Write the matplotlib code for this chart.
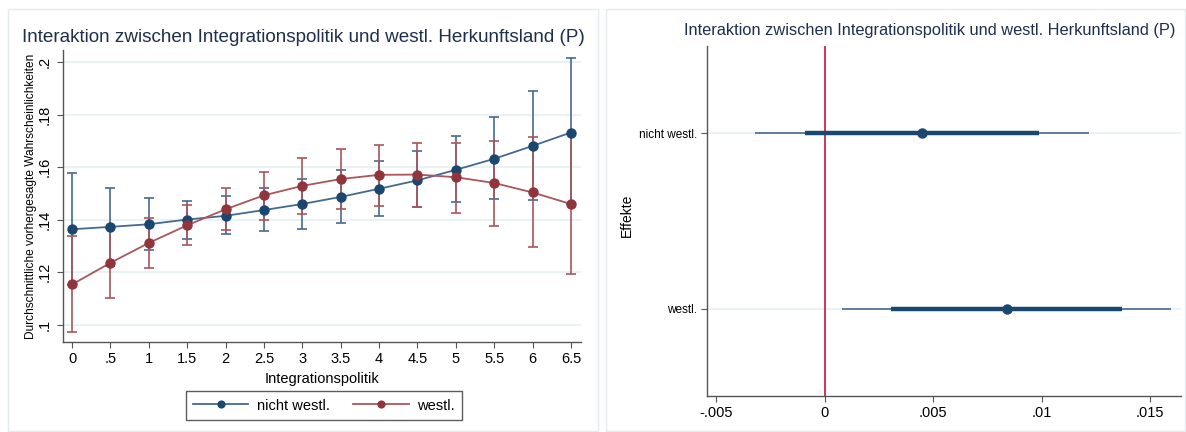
import numpy as np
import matplotlib
matplotlib.use('Agg')
from matplotlib import pyplot as plt
from matplotlib.patches import Rectangle

plt.rcParams['font.family'] = ['Liberation Sans', 'DejaVu Sans']

# left panel: average predicted probabilities
integ = [0, 0.5, 1, 1.5, 2, 2.5, 3, 3.5, 4, 4.5, 5, 5.5, 6, 6.5]
nw_mean = [0.1364, 0.1373, 0.1383, 0.1401, 0.1415, 0.1437, 0.1460, 0.1487, 0.1518, 0.1550, 0.1590, 0.1632, 0.1681, 0.1732]
nw_low = [0.1150, 0.1226, 0.1284, 0.1325, 0.1345, 0.1356, 0.1364, 0.1386, 0.1415, 0.1448, 0.1467, 0.1479, 0.1474, 0.1460]
nw_high = [0.1578, 0.1520, 0.1482, 0.1472, 0.1489, 0.1520, 0.1555, 0.1590, 0.1625, 0.1663, 0.1717, 0.1790, 0.1891, 0.2016]
w_mean = [0.1154, 0.1236, 0.1312, 0.1379, 0.1440, 0.1493, 0.1529, 0.1555, 0.1571, 0.1572, 0.1562, 0.1540, 0.1504, 0.1460]
w_low = [0.0972, 0.1104, 0.1217, 0.1305, 0.1363, 0.1398, 0.1423, 0.1442, 0.1452, 0.1448, 0.1425, 0.1377, 0.1295, 0.1192]
w_high = [0.1339, 0.1368, 0.1407, 0.1457, 0.1521, 0.1583, 0.1635, 0.1669, 0.1685, 0.1694, 0.1694, 0.1701, 0.1714, 0.1728]
x_ticks = [0, 0.5, 1, 1.5, 2, 2.5, 3, 3.5, 4, 4.5, 5, 5.5, 6, 6.5]
x_ticklabels = ['0', '.5', '1', '1.5', '2', '2.5', '3', '3.5', '4', '4.5', '5', '5.5', '6', '6.5']
y_ticks = [0.1, 0.12, 0.14, 0.16, 0.18, 0.2]
y_ticklabels = ['.1', '.12', '.14', '.16', '.18', '.2']

# right panel: effects with two confidence levels
groups = ['nicht westl.', 'westl.']
eff = [0.00449, 0.00839]
ci_thick_lo = [-0.00088, 0.00308]
ci_thick_hi = [0.0099, 0.01372]
ci_thin_lo = [-0.0032, 0.00079]
ci_thin_hi = [0.0122, 0.01597]
eff_ticks = [-0.005, 0, 0.005, 0.01, 0.015]
eff_ticklabels = ['-.005', '0', '.005', '.01', '.015']

title = 'Interaktion zwischen Integrationspolitik und westl. Herkunftsland (P)'
navy = '#1a476f'
navy_l = '#45698f'
maroon = '#90353b'
maroon_l = '#a9565c'
grid_c = '#e8f0f2'
spine_c = '#555555'

fig = plt.figure(figsize=(11.86, 4.32), dpi=100)
fig.patch.set_facecolor('white')

# panel frames
fig.patches.append(Rectangle((8/1186, 1-431/432), 590/1186, 422/432, transform=fig.transFigure,
                             fill=False, edgecolor='#e3ecee', linewidth=1))
fig.patches.append(Rectangle((606/1186, 1-431/432), 579/1186, 422/432, transform=fig.transFigure,
                             fill=False, edgecolor='#e3ecee', linewidth=1))

# ---- left panel
ax = fig.add_axes([62.5/1186, 1-342/432, 518/1186, 292/432])
for sp in ['top', 'right']:
    ax.spines[sp].set_visible(False)
for sp in ['left', 'bottom']:
    ax.spines[sp].set_color(spine_c)
    ax.spines[sp].set_linewidth(1)
ax.set_ylim(0.0935, 0.2046)
ax.set_xlim(-0.124, 6.625)
ax.set_yticks(y_ticks)
ax.set_yticklabels(y_ticklabels, rotation=90, va='center', fontsize=10.5)
ax.set_xticks(x_ticks)
ax.set_xticklabels(x_ticklabels, fontsize=10.5)
ax.tick_params(colors=spine_c, labelcolor='black', length=4)
ax.grid(axis='y', color=grid_c, linewidth=1.2)
ax.set_axisbelow(True)

nw_err = [np.array(nw_mean) - np.array(nw_low), np.array(nw_high) - np.array(nw_mean)]
w_err = [np.array(w_mean) - np.array(w_low), np.array(w_high) - np.array(w_mean)]
ax.errorbar(integ, nw_mean, yerr=nw_err, fmt='none', ecolor=navy_l, elinewidth=1.2, capsize=3.5, capthick=1.2)
ax.errorbar(integ, w_mean, yerr=w_err, fmt='none', ecolor=maroon_l, elinewidth=1.2, capsize=3.5, capthick=1.2)
ax.plot(integ, nw_mean, color=navy_l, linewidth=1.3, marker='o', markersize=6.5,
        markerfacecolor=navy, markeredgecolor=navy, label='nicht westl.')
ax.plot(integ, w_mean, color=maroon_l, linewidth=1.3, marker='o', markersize=6.5,
        markerfacecolor=maroon, markeredgecolor=maroon, label='westl.')

ax.set_xlabel('Integrationspolitik', fontsize=10.5, labelpad=4)
ax.set_ylabel('Durchschnittliche vorhergesagte Wahrscheinlichkeiten', fontsize=8.6, labelpad=1)
fig.text(303/1186, 1-38/432, title, fontsize=13.6, color='#1e2f4d', ha='center', va='center')

leg = fig.legend(loc='center', bbox_to_anchor=(324/1186, 1-405.5/432), ncol=2, fontsize=10.5,
                 frameon=True, fancybox=False, edgecolor='#333333', handlelength=3.8,
                 handletextpad=0.6, columnspacing=1.6, borderpad=0.5, markerscale=0.75)
leg.get_frame().set_linewidth(1)

# ---- right panel
ax2 = fig.add_axes([707.4/1186, 1-396/432, 473.6/1186, 350/432])
for sp in ['top', 'right']:
    ax2.spines[sp].set_visible(False)
for sp in ['left', 'bottom']:
    ax2.spines[sp].set_color(spine_c)
    ax2.spines[sp].set_linewidth(1)
ypos = np.arange(1, len(groups) + 1)
ax2.set_ylim(2.5, 0.5)
ax2.set_xlim(-0.0054, 0.01643)
ax2.set_yticks(ypos)
ax2.set_yticklabels(groups, fontsize=8.5)
ax2.set_xticks(eff_ticks)
ax2.set_xticklabels(eff_ticklabels, fontsize=10.5)
ax2.tick_params(colors=spine_c, labelcolor='black', length=4)
ax2.grid(axis='y', color=grid_c, linewidth=1.2)
ax2.set_axisbelow(True)
ax2.axvline(0, color='#c4143c', linewidth=1.2, zorder=1)
ax2.hlines(ypos, ci_thin_lo, ci_thin_hi, color=navy_l, linewidth=1.2, zorder=2)
ax2.hlines(ypos, ci_thick_lo, ci_thick_hi, color=navy, linewidth=3.2, zorder=3)
ax2.plot(eff, ypos, 'o', color=navy, markersize=6.5, zorder=4)
fig.text(627/1186, 1-215/432, 'Effekte', fontsize=10, rotation=90, ha='center', va='center')
fig.text(929.5/1186, 1-30/432, title, fontsize=11.8, color='#1e2f4d', ha='center', va='center')

plt.savefig('out.png', dpi=100)
plt.close()
